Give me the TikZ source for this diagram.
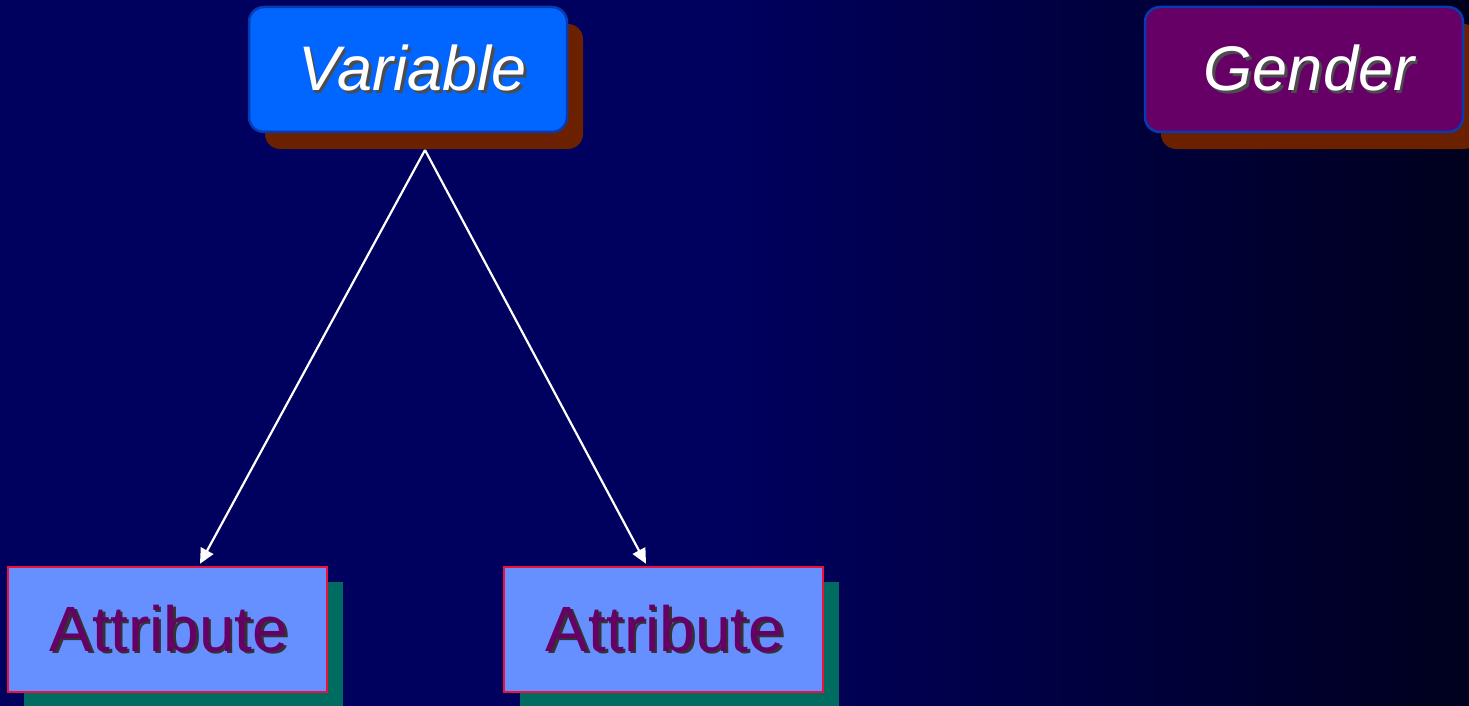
\documentclass[tikz,border=0pt]{standalone}
\usepackage{fontspec}
\setmainfont{Liberation Sans}
\usetikzlibrary{arrows.meta,shadows}
\definecolor{bgleft}{HTML}{00005E}
\definecolor{bgright}{HTML}{00001E}
\definecolor{varfill}{HTML}{0066FF}
\definecolor{varborder}{HTML}{0A3AB0}
\definecolor{gendfill}{HTML}{660066}
\definecolor{shbrown}{HTML}{6B2000}
\definecolor{attfill}{HTML}{6690FF}
\definecolor{attborder}{HTML}{F0103C}
\definecolor{shteal}{HTML}{006B60}
\definecolor{atttext}{HTML}{660066}
\newcommand\shtxt[3]{\rlap{\kern2.5pt\raisebox{-2.5pt}{\textcolor{#1}{#3}}}\textcolor{#2}{#3}}
\tikzset{
  x=1pt, y=-1pt,
  topbox/.style={rounded corners=15pt, minimum width=318pt, minimum height=125pt,
    line width=2.5pt, draw=varborder, inner sep=0pt,
    general shadow={fill=shbrown, shadow xshift=16pt, shadow yshift=-17pt},
    font=\fontsize{63}{70}\selectfont\itshape},
  attbox/.style={rectangle, minimum width=319pt, minimum height=125pt,
    line width=2.5pt, draw=attborder, fill=attfill, inner sep=0pt,
    general shadow={fill=shteal, shadow xshift=16pt, shadow yshift=-15pt},
    font=\fontsize{64}{70}\selectfont},
  link/.style={draw=white, line width=2.2pt, -{Triangle[length=15pt,width=14pt]}}
}
\begin{document}
\begin{tikzpicture}
\useasboundingbox (0,0) rectangle (1469,706);
\fill[bgleft] (0,0) rectangle (736,706);
\shade[left color=bgleft, right color=bgright, shading=axis] (735,0) rectangle (1469,706);
\node[topbox, fill=varfill] (var) at (408,69.5) {\hspace*{9pt}\raisebox{-2pt}{\shtxt{black!70}{white}{Variable}}};
\node[topbox, fill=gendfill] (gender) at (1304,69.5) {\hspace*{10pt}\raisebox{-2pt}{\shtxt{black!70}{white}{Gender}}};
\node[attbox] (att1) at (167.5,629.5) {\hspace*{3pt}\shtxt{black!80}{atttext}{Attribute}};
\node[attbox] (att2) at (663.5,629.5) {\hspace*{3pt}\shtxt{black!80}{atttext}{Attribute}};
\coordinate (apex) at (425,150);
\draw[link] (apex) -- ([xshift=32.5pt, yshift=2pt]att1.north);
\draw[link] (apex) -- ([xshift=-17.5pt, yshift=2pt]att2.north);
\end{tikzpicture}
\end{document}
